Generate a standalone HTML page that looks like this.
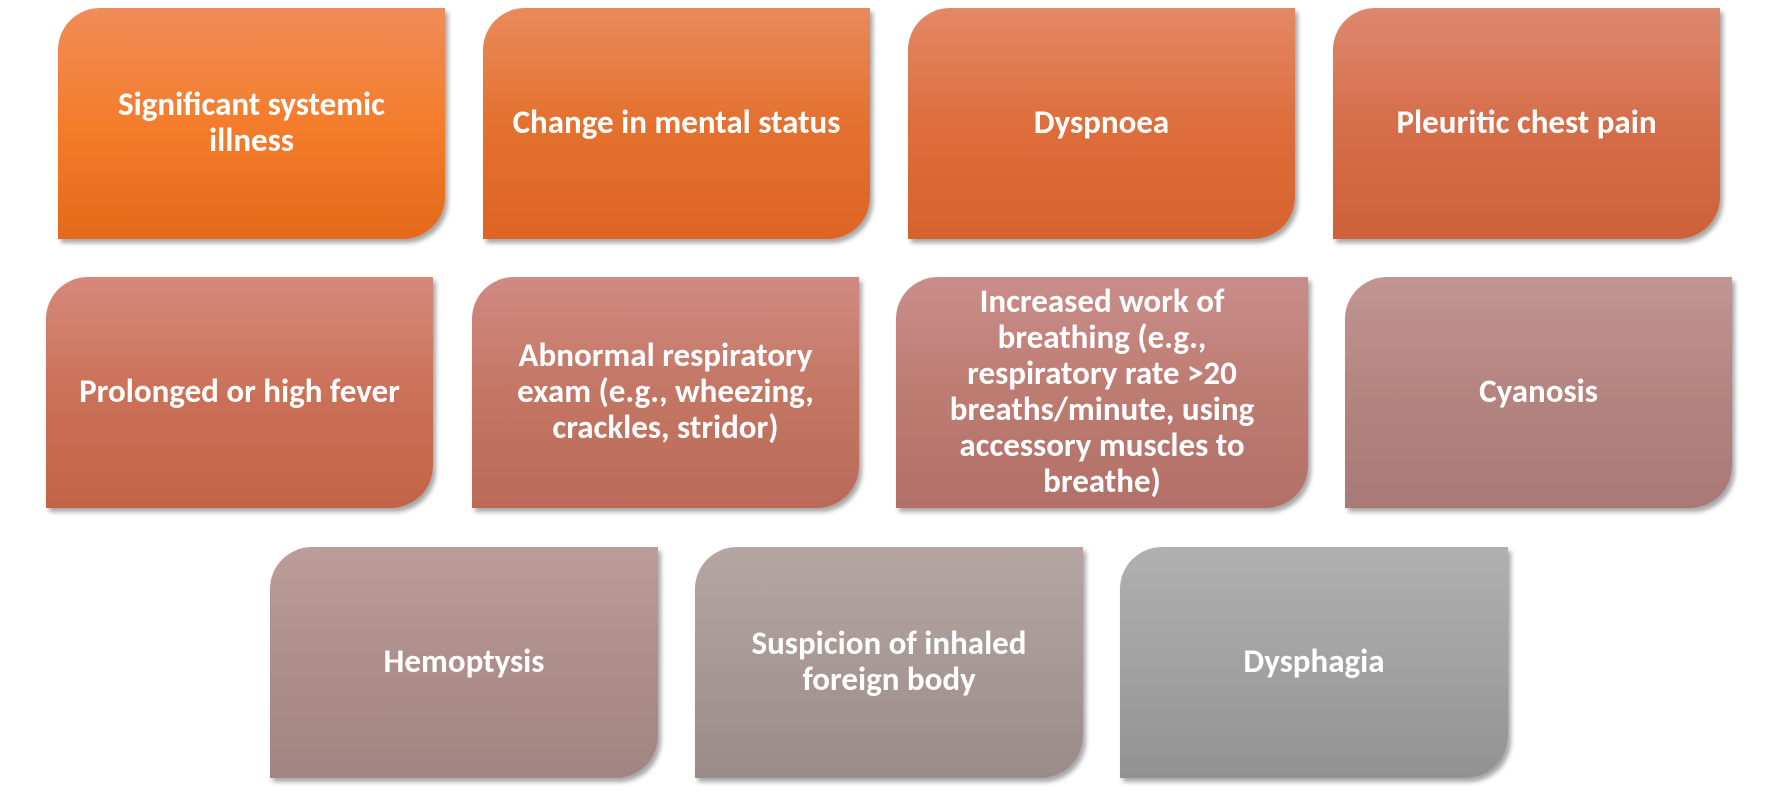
<!DOCTYPE html>
<html><head><meta charset="utf-8"><style>
html,body{margin:0;padding:0;background:#fff;}
body{width:1778px;height:792px;position:relative;overflow:hidden;font-family:"Carlito","Liberation Sans",sans-serif;}
.b{position:absolute;height:231px;border-radius:42px 0 42px 0;box-shadow:3px 4px 5px rgba(0,0,0,.35);display:flex;align-items:center;justify-content:center;text-align:center;color:#fff;font-weight:bold;font-size:33px;line-height:36px;box-sizing:border-box;padding:0 6px 4px;white-space:nowrap;}
</style></head><body>
<div class="b" style="left:58px;top:8px;width:387px;background:linear-gradient(#f08c58,#f47d2c 50%,#e4691a)">Significant systemic<br>illness</div>
<div class="b" style="left:483px;top:8px;width:387px;background:linear-gradient(#e98a5c,#e4712f 50%,#dd6424)">Change in mental status</div>
<div class="b" style="left:908px;top:8px;width:387px;background:linear-gradient(#e38866,#de6e3c 50%,#d6622e)">Dyspnoea</div>
<div class="b" style="left:1333px;top:8px;width:387px;background:linear-gradient(#dd8870,#d56e4a 50%,#cd6239)">Pleuritic chest pain</div>
<div class="b" style="left:46px;top:277px;width:387px;background:linear-gradient(#d6887a,#cb7158 50%,#c26446)">Prolonged or high fever</div>
<div class="b" style="left:472px;top:277px;width:387px;background:linear-gradient(#d08a82,#c47664 50%,#ba6a57)">Abnormal respiratory<br>exam (e.g., wheezing,<br>crackles, stridor)</div>
<div class="b" style="left:896px;top:277px;width:412px;background:linear-gradient(#c98d8a,#bd7c72 50%,#b27068)">Increased work of<br>breathing (e.g.,<br>respiratory rate &gt;20<br>breaths/minute, using<br>accessory muscles to<br>breathe)</div>
<div class="b" style="left:1345px;top:277px;width:387px;background:linear-gradient(#c29593,#b4847f 50%,#a87977)">Cyanosis</div>
<div class="b" style="left:270px;top:547px;width:388px;background:linear-gradient(#bc9d9a,#ad8e8a 50%,#a28482)">Hemoptysis</div>
<div class="b" style="left:695px;top:547px;width:388px;background:linear-gradient(#b5a6a4,#a89896 50%,#9a8c8a)">Suspicion of inhaled<br>foreign body</div>
<div class="b" style="left:1120px;top:547px;width:388px;background:linear-gradient(#b0b0b0,#a2a2a2 50%,#929292)">Dysphagia</div>
</body></html>
